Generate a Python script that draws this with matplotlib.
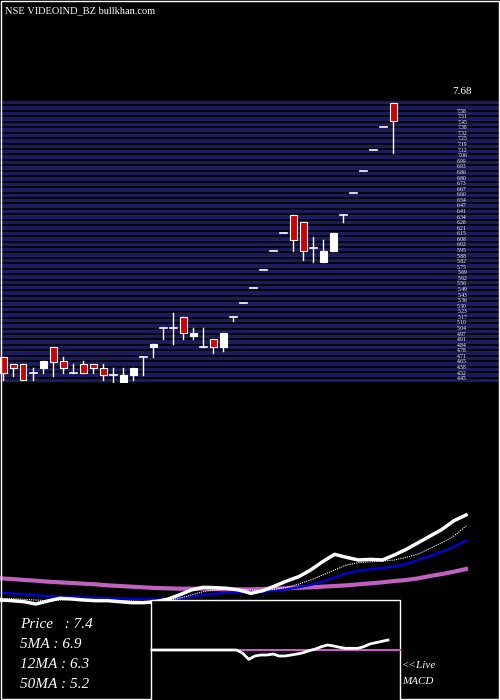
import matplotlib
matplotlib.use("Agg")
import matplotlib.pyplot as plt
from matplotlib.patches import Rectangle
import numpy as np

opens  = [4.70,4.62,4.62,4.52,4.57,4.82,4.66,4.52,4.62,4.62,4.57,4.49,4.40,4.49,4.70,4.82,5.04,5.04,5.17,4.95,
          4.82,4.91,4.82,5.17,5.34,5.51,5.72,5.94,6.15,6.36,6.28,5.98,5.81,5.94,6.36,6.62,6.88,7.13,7.39,7.68]
closes = [4.52,4.57,4.44,4.52,4.66,4.65,4.57,4.52,4.52,4.57,4.49,4.49,4.49,4.57,4.70,4.86,5.04,5.04,4.99,4.99,
          4.82,4.82,4.99,5.17,5.34,5.51,5.72,5.94,6.15,6.07,5.94,5.98,5.94,6.15,6.36,6.62,6.88,7.13,7.39,7.47]
highs  = [4.70,4.62,4.62,4.57,4.66,4.82,4.70,4.62,4.66,4.62,4.62,4.57,4.57,4.57,4.70,4.86,5.04,5.22,5.17,5.04,
          5.04,4.91,4.99,5.17,5.34,5.51,5.72,5.94,6.15,6.36,6.28,6.11,6.07,6.15,6.36,6.62,6.88,7.13,7.39,7.68]
lows   = [4.44,4.48,4.44,4.44,4.52,4.48,4.52,4.52,4.52,4.52,4.44,4.40,4.40,4.44,4.49,4.70,4.91,4.86,4.91,4.91,
          4.82,4.75,4.78,5.12,5.34,5.51,5.72,5.94,6.15,5.94,5.84,5.81,5.81,5.94,6.28,6.62,6.88,7.13,7.39,7.09]

price_line = [300,302,305,312,303,295,297,300,302,302,305,308,308,305,298,285,270,262,263,265,
              270,280,272,258,243,230,210,185,163,172,180,178,180,165,148,128,108,88,62,45]
ma5 = [295,296,298,300,302,300,298,298,300,301,302,303,305,305,302,295,285,275,270,268,
       268,270,272,268,262,252,240,225,210,195,188,185,183,180,172,162,145,128,108,78]
ma12 = [278,280,283,286,288,290,291,292,293,294,295,297,298,298,297,295,290,285,281,278,
        276,275,275,272,268,262,255,245,232,220,212,208,204,200,192,180,168,155,140,122]
ma50 = [235,237,240,242,245,247,249,251,253,256,258,260,262,264,265,266,266,266,267,268,
        268,268,267,266,265,263,262,260,258,256,253,250,247,243,240,235,228,222,215,207]
macd = [450]*15 + [460,478,468,465,465,462,468,468,465,462,458,452,447,440,435,438,442,445,445,445,440,432,428,424,420]

labels = ["Price   : 7.4", "5MA : 6.9", "12MA : 6.3", "50MA : 5.2"]

W, H = 500, 700
fig = plt.figure(figsize=(5, 7), dpi=100, facecolor="black")

def fa(x0, y0, x1, y1):
    return fig.add_axes([x0/W, 1-y1/H, (x1-x0)/W, (y1-y0)/H])

band = "#1c1c5c"
ax = fa(0, 100, 500, 383)
ax.set_xlim(-0.3, 49.7)
ax.set_ylim(4.4, 7.71)
ax.axis("off")
ax.add_patch(Rectangle((0, 0), 1, 1, transform=ax.transAxes, color=band, zorder=0))
for y in np.linspace(4.4, 7.71, 53):
    ax.axhline(y, color="black", lw=1.2, zorder=1)
n = len(opens)
for i in range(n):
    o, c, h, l = opens[i], closes[i], highs[i], lows[i]
    ax.plot([i, i], [l, h], color="white", lw=1, zorder=2)
    if abs(o - c) < 1e-9:
        ax.plot([i-0.35, i+0.35], [o, o], color="white", lw=1.2, zorder=3)
    else:
        col = "#cc0000" if c < o else "white"
        ax.add_patch(Rectangle((i-0.35, min(o, c)), 0.7, abs(o-c), facecolor=col,
                               edgecolor="white", lw=0.8, zorder=3))
for y in np.linspace(4.45, 7.58, 49):
    ax.text(45.9, y, f"{y:.2f}", color="white", fontsize=4, ha="center", va="center",
            family="Liberation Serif", zorder=4)

ax2 = fa(0, 500, 500, 610)
ax2.axis("off")
xm = np.linspace(0, 466, len(price_line))
ax2.plot(xm, [v/3 for v in ma50], color="#c060c0", lw=3)
ax2.plot(xm, [v/3 for v in ma12], color="#0000dd", lw=1.6)
ax2.plot(xm, [v/3 for v in ma5], color="white", lw=0.8, ls=(0, (1, 1)))
ax2.plot(xm, [v/3 for v in price_line], color="white", lw=2.5)
ax2.set_ylim(110, 0)
ax2.set_xlim(0, 500)

ov = fig.add_axes([0, 0, 1, 1], facecolor="none")
ov.set_xlim(0, W); ov.set_ylim(H, 0); ov.axis("off")
ov.add_patch(Rectangle((0.5, 0.5), 498.5, 698.5, fill=False, ec="white", lw=1))
ov.text(5, 11, "NSE VIDEOIND_BZ bullkhan.com", color="white", fontsize=7.5, family="Liberation Serif",
        va="center")
ov.text(462, 92, "7.68", color="white", fontsize=8, family="Liberation Serif", ha="center", va="center")
ov.add_patch(Rectangle((151, 600), 249, 110, facecolor="black", ec="white", lw=1, zorder=5))
xmacd = np.linspace(152, 388, len(macd))
ov.plot([240, 400], [650, 650], color="#c060c0", lw=1.5, zorder=6)
ov.plot(xmacd, [500 + v/3 for v in macd], color="white", lw=2, zorder=7)
for k, t in enumerate(labels):
    ov.text(20, 625 + 20*k, t, color="white", fontsize=11, family="Liberation Serif",
            style="italic", va="center")
ov.text(402, 666, "<<Live", color="white", fontsize=8, family="Liberation Serif", style="italic", va="center")
ov.text(402, 681, "MACD", color="white", fontsize=8, family="Liberation Serif", style="italic", va="center")

fig.savefig("out.png", dpi=100, facecolor="black")
